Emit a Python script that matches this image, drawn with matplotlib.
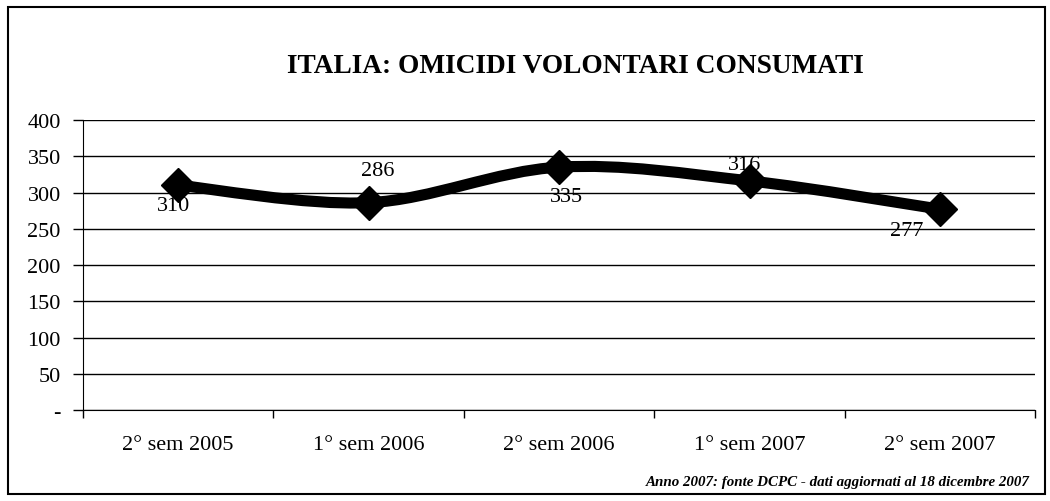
import numpy as np
import matplotlib.pyplot as plt
from matplotlib.path import Path
from matplotlib.patches import PathPatch, Rectangle

categories = ["2° sem 2005", "1° sem 2006", "2° sem 2006", "1° sem 2007", "2° sem 2007"]
values = [310, 286, 335, 316, 277]
yticks = [0, 50, 100, 150, 200, 250, 300, 350, 400]
ytick_labels = ["-", "50", "100", "150", "200", "250", "300", "350", "400"]

plt.rcParams['font.family'] = ['Liberation Serif', 'DejaVu Serif']

fig = plt.figure(figsize=(10.5, 5.02), dpi=100)
fig.patches.append(Rectangle((0.008, 0.014), 0.987, 0.97, transform=fig.transFigure,
                             fill=False, edgecolor='black', linewidth=1.5))
ax = fig.add_axes([0.079, 0.181, 0.907, 0.578])

x = np.arange(len(values))
ax.set_xlim(-0.5, len(values) - 0.5)
ax.set_ylim(0, 400)

# smoothed line (Catmull-Rom style bezier like Excel)
pts = np.column_stack([x, values]).astype(float)
verts = [tuple(pts[0])]
codes = [Path.MOVETO]
t = 1 / 6
for i in range(len(pts) - 1):
    p0 = pts[i - 1] if i > 0 else pts[i]
    p1 = pts[i]
    p2 = pts[i + 1]
    p3 = pts[i + 2] if i + 2 < len(pts) else pts[i + 1]
    c1 = p1 + (p2 - p0) * t
    c2 = p2 - (p3 - p1) * t
    verts += [tuple(c1), tuple(c2), tuple(p2)]
    codes += [Path.CURVE4] * 3
ax.add_patch(PathPatch(Path(verts, codes), fill=False, edgecolor='black', linewidth=8,
                       capstyle='round', joinstyle='round', zorder=3))
ax.plot(x, values, linestyle='none', marker='D', markersize=17, color='black', zorder=4)

offsets = [(-0.026, -28), (0.047, 45), (0.037, -41), (-0.026, 22), (-0.174, -30)]
for xi, v, (dx, dy) in zip(x, values, offsets):
    ax.text(xi + dx, v + dy, str(v), ha='center', va='center', fontsize=16)

ax.set_yticks(yticks)
ax.set_yticklabels(ytick_labels, fontsize=16)
ax.set_xticks(x)
ax.set_xticklabels(categories, fontsize=16)
ax.set_xticks(np.arange(-0.5, len(values), 1), minor=True)
ax.tick_params(axis='x', which='major', length=0, pad=18)
ax.tick_params(axis='x', which='minor', length=6, direction='out', width=1)
ax.tick_params(axis='y', length=7, direction='out', width=1, pad=9)
ax.grid(axis='y', color='black', linewidth=1)
ax.set_axisbelow(True)
for s in ['top', 'right']:
    ax.spines[s].set_visible(False)

fig.text(0.548, 0.868, "ITALIA: OMICIDI VOLONTARI CONSUMATI", ha='center', va='center',
         fontsize=19.7, fontweight='bold')
fig.text(0.981, 0.038, "Anno 2007: fonte DCPC - dati aggiornati al 18 dicembre 2007",
         ha='right', va='center', fontsize=10.8, fontweight='bold', style='italic')

fig.savefig("out.png", dpi=100)
